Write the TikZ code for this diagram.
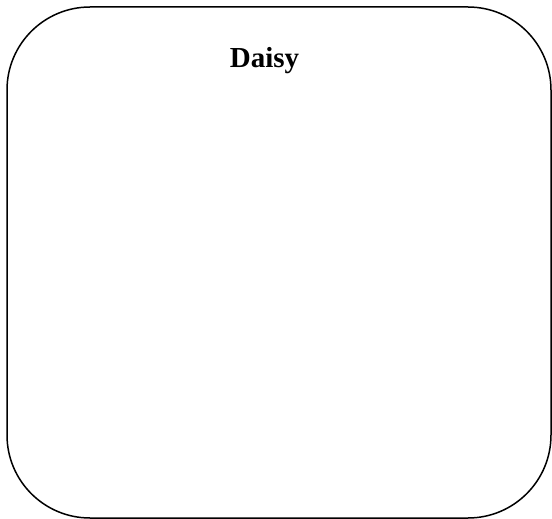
\documentclass[tikz,border=0pt]{standalone}
\usepackage{fontspec}
\setmainfont{Liberation Serif}
\begin{document}
\begin{tikzpicture}[x=1pt,y=-1pt,
  card/.style={draw=black,line width=1.5pt,rounded corners=83pt},
  title/.style={font=\fontsize{29}{34}\selectfont\bfseries,anchor=base}]
\useasboundingbox (0,0) rectangle (552,519);
\draw[card] (7,7) rectangle (551,518);
\node[title] (t) at (264.5,67) {Daisy};
\end{tikzpicture}
\end{document}
